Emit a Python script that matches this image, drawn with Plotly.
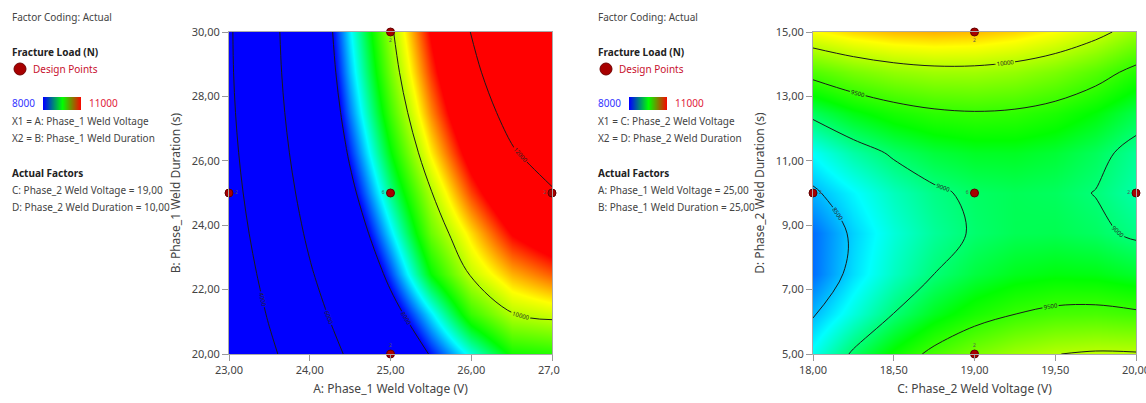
import plotly.graph_objects as go

# ---------------- data ----------------
# Left panel: Fracture Load (N) vs A (Phase_1 Weld Voltage) and B (Phase_1 Weld Duration)
left_A = [23.0, 23.5, 24.0, 24.5, 25.0, 25.5, 26.0, 26.5, 27.0]
left_B = [20.0, 21.25, 22.5, 23.75, 25.0, 26.25, 27.5, 28.75, 30.0]
left_load = [
    [2257, 3726, 5039, 6198, 7200, 8050, 8743, 9350, 9420],
    [2623, 4131, 5482, 6680, 7721, 8609, 9500, 9990, 10100],
    [2941, 4486, 5876, 7111, 8190, 9300, 10050, 10500, 10750],
    [3211, 4793, 6219, 7491, 8607, 9700, 10375, 11027, 11350],
    [3432, 5050, 6512, 7820, 8972, 9970, 10812, 11500, 11920],
    [3605, 5258, 6755, 8098, 9285, 10318, 11195, 11918, 12420],
    [3729, 5416, 6948, 8325, 9546, 10613, 11525, 12282, 12883],
    [3805, 5526, 7090, 8501, 9755, 10856, 11800, 12591, 13226],
    [3833, 5586, 7183, 8626, 9912, 11046, 12023, 12846, 13513],
]
left_pts_A = [25, 23, 25, 27, 25]
left_pts_B = [30, 25, 25, 25, 20]

# Right panel: Fracture Load (N) vs C (Phase_2 Weld Voltage) and D (Phase_2 Weld Duration)
right_C = [18.0, 18.25, 18.5, 18.75, 19.0, 19.25, 19.5, 19.75, 20.0]
right_D = [5.0, 6.25, 7.5, 8.75, 10.0, 11.25, 12.5, 13.75, 15.0]
right_load = [
    [8696, 9038, 9330, 9571, 9762, 9903, 9994, 10034, 10024],
    [8477, 8738, 9003, 9217, 9382, 9496, 9559, 9573, 9536],
    [8285, 8573, 8811, 8998, 9135, 9222, 9259, 9245, 9182],
    [8280, 8541, 8752, 8912, 9023, 9083, 9093, 9052, 8961],
    [8463, 8643, 8827, 8961, 9044, 9077, 9060, 8993, 8875],
    [8672, 8879, 9036, 9143, 9199, 9205, 9161, 9067, 8922],
    [9069, 9249, 9379, 9459, 9488, 9467, 9397, 9275, 9104],
    [9599, 9753, 9856, 9909, 9911, 9863, 9766, 9617, 9419],
    [10264, 10390, 10467, 10492, 10468, 10393, 10269, 10093, 9868],
]
right_pts_C = [19, 18, 19, 20, 19]
right_pts_D = [15, 10, 10, 10, 5]

replicates = ["2", "2", "6", "2", "2"]
rep_pos = ["bottom center", "middle right", "middle left", "middle left", "top center"]

left_xticks = [23, 24, 25, 26, 27]
left_xtext = ["23,00", "24,00", "25,00", "26,00", "27,00"]
left_yticks = [20, 22, 24, 26, 28, 30]
left_ytext = ["20,00", "22,00", "24,00", "26,00", "28,00", "30,00"]
right_xticks = [18, 18.5, 19, 19.5, 20]
right_xtext = ["18,00", "18,50", "19,00", "19,50", "20,00"]
right_yticks = [5, 7, 9, 11, 13, 15]
right_ytext = ["5,00", "7,00", "9,00", "11,00", "13,00", "15,00"]

scale_min, scale_max = 8000, 11000
legend_bar = [[8000, 9500, 11000]]

W, H = 1146, 403
FONT = "Segoe UI, Noto Sans, sans-serif"
cscale = [[0, "#0000ff"], [0.22, "#00ffff"], [0.43, "#00ff00"], [0.76, "#ffff00"], [1, "#ff0000"]]

fig = go.Figure()


def px(x):
    return x / W


def py(y):
    return 1 - y / H


def add_panel(xs, ys, z, levels, pts_x, pts_y, xa, ya):
    fig.add_trace(go.Heatmap(x=xs, y=ys, z=z, zsmooth="best", zmin=scale_min, zmax=scale_max,
                             colorscale=cscale, showscale=False, hoverinfo="skip",
                             xaxis=xa, yaxis=ya))
    fig.add_trace(go.Contour(x=xs, y=ys, z=z, showscale=False, hoverinfo="skip",
                             contours=dict(coloring="none", start=levels[0], end=levels[1],
                                           size=levels[2], showlabels=True, labelformat="d",
                                           labelfont=dict(size=6, color="#222", family=FONT)),
                             line=dict(color="#1a1a1a", width=1, smoothing=1.0),
                             xaxis=xa, yaxis=ya))
    fig.add_trace(go.Scatter(x=pts_x, y=pts_y, mode="markers+text", text=replicates,
                             textposition=rep_pos, textfont=dict(size=5, color="#555", family=FONT),
                             marker=dict(size=8, color="#a80000", line=dict(color="#600000", width=1)),
                             cliponaxis=False, hoverinfo="skip", xaxis=xa, yaxis=ya))


add_panel(left_A, left_B, left_load, (4000, 12000, 2000), left_pts_A, left_pts_B, "x", "y")
add_panel(right_C, right_D, right_load, (8500, 10000, 500), right_pts_C, right_pts_D, "x2", "y2")

bar_cs = [[0, "#0000ff"], [0.5, "#00ff00"], [1, "#ff0000"]]
for xa, ya in (("x3", "y3"), ("x4", "y4")):
    fig.add_trace(go.Heatmap(z=legend_bar, x=[0, 1, 2], y=[0], zsmooth="best", zmin=scale_min,
                             zmax=scale_max, colorscale=bar_cs, showscale=False,
                             hoverinfo="skip", xaxis=xa, yaxis=ya))

ydom = [py(354), py(32)]
axis_common = dict(ticks="outside", ticklen=6, tickcolor="#999", showline=True, linecolor="#aaa",
                   linewidth=1, mirror=True, showgrid=False, zeroline=False, automargin=False,
                   ticklabeloverflow="allow",
                   tickfont=dict(size=11, color="#444", family=FONT))
title_font = dict(size=12, color="#444", family=FONT)
hidden = dict(visible=False, automargin=False)

fig.update_layout(
    width=W, height=H, margin=dict(l=0, r=0, t=0, b=0, autoexpand=False),
    paper_bgcolor="white", plot_bgcolor="white", showlegend=False,
    font=dict(family=FONT),
    xaxis=dict(domain=[px(229), px(552)], range=[23, 27], tickvals=left_xticks, ticktext=left_xtext,
               anchor="y", title=dict(text="A: Phase_1 Weld Voltage (V)", font=title_font, standoff=8),
               **axis_common),
    yaxis=dict(domain=ydom, range=[20, 30], tickvals=left_yticks, ticktext=left_ytext, anchor="x",
               title=dict(text="B: Phase_1 Weld Duration (s)", font=title_font, standoff=8),
               **axis_common),
    xaxis2=dict(domain=[px(813), px(1136)], range=[18, 20], tickvals=right_xticks, ticktext=right_xtext,
                anchor="y2", title=dict(text="C: Phase_2 Weld Voltage (V)", font=title_font, standoff=8),
                **axis_common),
    yaxis2=dict(domain=ydom, range=[5, 15], tickvals=right_yticks, ticktext=right_ytext, anchor="x2",
                title=dict(text="D: Phase_2 Weld Duration (s)", font=title_font, standoff=8),
                **axis_common),
    xaxis3=dict(domain=[px(43), px(81)], range=[0, 2], anchor="y3", **hidden),
    yaxis3=dict(domain=[py(110), py(97)], range=[-0.5, 0.5], anchor="x3", **hidden),
    xaxis4=dict(domain=[px(629), px(667)], range=[0, 2], anchor="y4", **hidden),
    yaxis4=dict(domain=[py(110), py(97)], range=[-0.5, 0.5], anchor="x4", **hidden),
)

ann = []
shapes = []


def txt(x, y, s, color="#444", bold=False, size=10):
    if bold:
        s = "<b>" + s + "</b>"
    ann.append(dict(x=px(x), y=py(y), xref="paper", yref="paper", text=s, showarrow=False,
                    xanchor="left", yanchor="middle", font=dict(size=size, color=color, family=FONT)))


panels = [
    (10, ["X1 = A: Phase_1 Weld Voltage", "X2 = B: Phase_1 Weld Duration"],
     ["C: Phase_2 Weld Voltage = 19,00", "D: Phase_2 Weld Duration = 10,00"]),
    (596, ["X1 = C: Phase_2 Weld Voltage", "X2 = D: Phase_2 Weld Duration"],
     ["A: Phase_1 Weld Voltage = 25,00", "B: Phase_1 Weld Duration = 25,00"]),
]
for x0, xl, fl in panels:
    txt(x0, 17, "Factor Coding: Actual")
    txt(x0, 52, "Fracture Load (N)", color="#222", bold=True)
    txt(x0 + 21, 69, "Design Points", color="#c8102e")
    shapes.append(dict(type="circle", xref="paper", yref="paper", xsizemode="pixel",
                       ysizemode="pixel", xanchor=px(x0 + 10), yanchor=py(69), x0=-6, x1=6,
                       y0=-6, y1=6, fillcolor="#a80000", line=dict(color="#700000", width=1)))
    txt(x0, 103, "8000", color="#3333ff")
    txt(x0 + 77, 103, "11000", color="#e0203a")
    txt(x0, 121, xl[0])
    txt(x0, 138, xl[1])
    txt(x0, 173, "Actual Factors", color="#222", bold=True)
    txt(x0, 190, fl[0])
    txt(x0, 207, fl[1])

# crop of the left picture's right edge (as in the reference image)
shapes.append(dict(type="rect", xref="paper", yref="paper", x0=px(560), x1=px(592),
                   y0=py(385), y1=py(356), fillcolor="white", line=dict(width=0), layer="above"))

fig.update_layout(annotations=ann, shapes=shapes)
fig.write_html("out.html", config={"displayModeBar": False},
               post_script="document.body.style.margin='0px';document.body.style.overflow='hidden';")
